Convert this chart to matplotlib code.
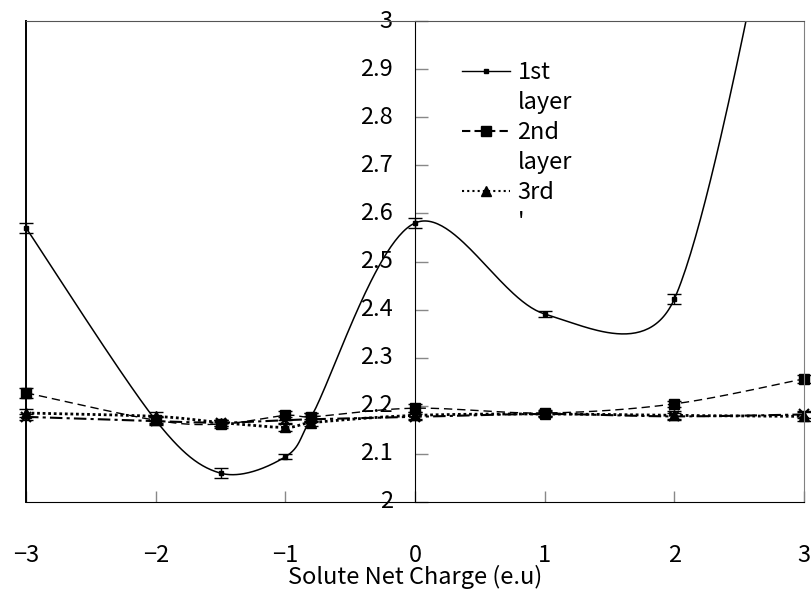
import numpy as np
import matplotlib
matplotlib.use('Agg')
import matplotlib.pyplot as plt
from matplotlib.lines import Line2D

plt.rcParams['font.family'] = ['Noto Sans CJK JP', 'DejaVu Sans']

# ---- data ----
charge = [-3, -2, -1.5, -1, -0.8, 0, 1, 2, 3]
layer1 = [2.570, 2.170, 2.060, 2.094, 2.177, 2.580, 2.391, 2.422, 3.60]
layer1_err = [0.010, 0.006, 0.010, 0.005, 0.008, 0.010, 0.007, 0.010, 0.010]
layer2 = [2.227, 2.170, 2.162, 2.180, 2.177, 2.195, 2.185, 2.204, 2.256]
layer2_err = [0.010, 0.008, 0.008, 0.010, 0.008, 0.008, 0.006, 0.007, 0.008]
layer3 = [2.185, 2.178, 2.165, 2.155, 2.165, 2.180, 2.183, 2.180, 2.178]
layer3_err = [0.008, 0.010, 0.006, 0.008, 0.008, 0.008, 0.006, 0.010, 0.010]
layer4 = [2.177, 2.168, 2.165, 2.170, 2.172, 2.177, 2.183, 2.178, 2.182]
layer4_err = [0.006, 0.008, 0.006, 0.006, 0.006, 0.006, 0.005, 0.006, 0.008]

legend_labels = ['1st', 'layer', '2nd', 'layer', '3rd', "'"]
xticks = [-3, -2, -1, 0, 1, 2, 3]
xticklabels = ['\u22123', '\u22122', '\u22121', '0', '1', '2', '3']
yticks = [2.0, 2.1, 2.2, 2.3, 2.4, 2.5, 2.6, 2.7, 2.8, 2.9, 3.0]
yticklabels = ['2', '2.1', '2.2', '2.3', '2.4', '2.5', '2.6', '2.7', '2.8', '2.9', '3']
xlabel = 'Solute Net Charge (e.u)'


def smooth(ax, x, y, n=60):
    """Spreadsheet-style smoothed line: Bezier segments, control points at
    1/6 of the neighbour chord, capped at half the segment length (screen space)."""
    pts = ax.transData.transform(np.column_stack([x, y]))
    N = len(pts)
    t = np.linspace(0, 1, n)[:, None]
    segs = []
    for i in range(N - 1):
        p0 = pts[i - 1] if i > 0 else pts[i]
        p1 = pts[i]
        p2 = pts[i + 1]
        p3 = pts[i + 2] if i + 2 < N else pts[i + 1]
        d12 = np.hypot(*(p2 - p1))
        v1 = (p2 - p0) / 6.0
        v2 = (p3 - p1) / 6.0
        for v in (v1, v2):
            nv = np.hypot(*v)
            if nv > d12 / 2 and nv > 0:
                v *= (d12 / 2) / nv
        b1 = p1 + v1
        b2 = p2 - v2
        seg = ((1 - t) ** 3) * p1 + 3 * ((1 - t) ** 2) * t * b1 \
            + 3 * (1 - t) * t ** 2 * b2 + t ** 3 * p2
        segs.append(seg if i == 0 else seg[1:])
    disp = np.vstack(segs)
    data = ax.transData.inverted().transform(disp)
    return data[:, 0], data[:, 1]


fig = plt.figure(figsize=(8.11, 5.92), dpi=100)
ax = fig.add_axes([26 / 811, 1 - 502 / 592, (804 - 26) / 811, (502 - 21) / 592])
ax.set_xlim(-3, 3)
ax.set_ylim(2, 3)

styles = [
    (layer1, layer1_err, dict(ls='-', lw=1.1), dict(marker='s', ms=3.5)),
    (layer2, layer2_err, dict(ls=(0, (6, 3.5)), lw=1.0), dict(marker='s', ms=7)),
    (layer3, layer3_err, dict(ls=(0, (1, 1)), lw=2.0), dict(marker='^', ms=7)),
    (layer4, layer4_err, dict(ls=(0, (6, 2, 1.5, 2)), lw=1.5), dict(marker='x', ms=7, mew=1.5)),
]
for yv, ev, lst, mk in styles:
    sx, sy = smooth(ax, charge, yv)
    ax.plot(sx, sy, color='black', **lst)
    ax.plot(charge, yv, ls='none', color='black', clip_on=False, **mk)
    ax.errorbar(charge, yv, yerr=ev, fmt='none', ecolor='black', elinewidth=1.0,
                capsize=5, capthick=1.0, clip_on=False)

# spines: y axis through x=0, frame around
ax.spines['left'].set_position(('data', 0))
ax.spines['left'].set_color('black')
ax.spines['right'].set_color('#808080')
ax.spines['top'].set_color('#555555')
ax.spines['bottom'].set_color('black')
ax.axvline(-3, color='black', lw=1.4, clip_on=False)

ax.set_xticks(xticks)
ax.set_xticklabels(xticklabels)
ax.set_yticks(yticks)
ax.set_yticklabels(yticklabels)
ax.tick_params(axis='y', direction='in', length=9, width=1, color='#888888',
               labelsize=17, pad=16)
ax.tick_params(axis='x', direction='in', length=8, width=1, color='#888888',
               labelsize=17, pad=30)
for lab in ax.get_yticklabels():
    lab.set_va('center')
ax.set_xlabel(xlabel, fontsize=17, labelpad=-1)

handles = [
    Line2D([], [], color='black', ls='-', lw=1.0, marker='s', ms=3.5),
    Line2D([], [], ls='none'),
    Line2D([], [], color='black', ls=(0, (4, 2)), lw=1.5, marker='s', ms=7),
    Line2D([], [], ls='none'),
    Line2D([], [], color='black', ls=(0, (1, 1.5)), lw=1.5, marker='^', ms=7),
    Line2D([], [], ls='none'),
]
ax.legend(handles, legend_labels, loc='upper left',
          bbox_to_anchor=(462 / 811, 1 - 61 / 592), bbox_transform=fig.transFigure,
          frameon=False, fontsize=17, handlelength=2.05, handletextpad=0.3,
          labelspacing=0.30, borderpad=0, borderaxespad=0, numpoints=1)

fig.savefig('out.png', dpi=100)
